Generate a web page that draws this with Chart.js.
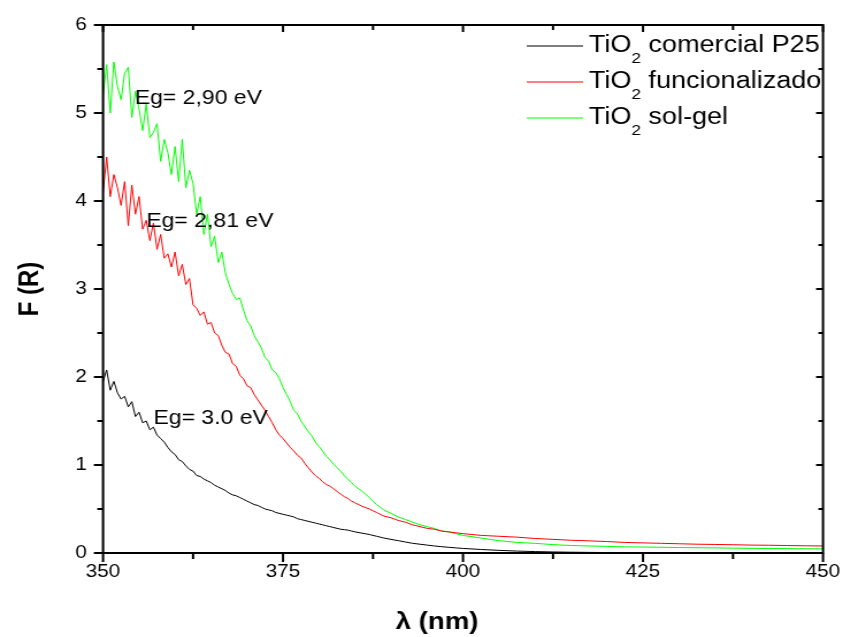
<!DOCTYPE html>
<html>
<head>
<meta charset="utf-8">
<script src="https://cdn.jsdelivr.net/npm/chart.js@4/dist/chart.umd.min.js"></script>
<style>
  html, body { margin: 0; padding: 0; background: #fff; }
</style>
</head>
<body>
<!-- drawn at 733 px wide and stretched to 843 px, like the source figure -->
<canvas id="chart" width="733" height="637" style="width:843px;height:637px;display:block"></canvas>
<script>
const lambda = [
  350, 350.5, 351, 351.5, 352, 352.5, 353, 353.5, 354, 354.5,
  355, 355.5, 356, 356.5, 357, 357.5, 358, 358.5, 359, 359.5,
  360, 360.5, 361, 361.5, 362, 362.5, 363, 363.5, 364, 364.5,
  365, 365.5, 366, 366.5, 367, 367.5, 368, 368.5, 369, 369.5,
  370, 370.5, 371, 371.5, 372, 372.5, 373, 373.5, 374, 374.5,
  375, 375.5, 376, 376.5, 377, 377.5, 378, 378.5, 379, 379.5,
  380, 380.5, 381, 381.5, 382, 382.5, 383, 383.5, 384, 384.5,
  385,
  386, 387, 388, 389, 390, 391, 392, 393, 394, 395, 396, 397, 398, 399, 400,
  402.5, 405, 407.5, 410, 412.5, 415, 417.5, 420, 422.5, 425,
  427.5, 430, 432.5, 435, 437.5, 440, 442.5, 445, 447.5, 450,
];

const p25 = [
  1.95, 2.08, 1.85, 1.95, 1.82, 1.75, 1.78, 1.66, 1.72, 1.55,
  1.60, 1.48, 1.50, 1.40, 1.43, 1.34, 1.30, 1.26, 1.20, 1.15,
  1.12, 1.06, 1.04, 0.99, 0.95, 0.93, 0.88, 0.87, 0.84, 0.82,
  0.80, 0.77, 0.75, 0.73, 0.71, 0.68, 0.66, 0.65, 0.63, 0.61,
  0.59, 0.57, 0.55, 0.54, 0.52, 0.50, 0.49, 0.48, 0.46, 0.45,
  0.44, 0.43, 0.42, 0.41, 0.39, 0.38, 0.37, 0.36, 0.35, 0.34,
  0.33, 0.32, 0.31, 0.30, 0.29, 0.28, 0.27, 0.265, 0.26, 0.25,
  0.24,
  0.225, 0.21, 0.19, 0.17, 0.155, 0.14, 0.125, 0.11, 0.10, 0.09, 0.08, 0.072, 0.065, 0.058, 0.052,
  0.04, 0.03, 0.022, 0.016, 0.012, 0.009, 0.007, 0.005, 0.004, 0.003,
  0.003, 0.002, 0.002, 0.002, 0.001, 0.001, 0.001, 0.001, 0.001, 0.001,
];

const funcionalizado = [
  4.10, 4.50, 4.05, 4.30, 4.15, 3.95, 4.22, 3.72, 4.18, 3.85,
  4.05, 3.68, 3.78, 3.55, 3.75, 3.45, 3.62, 3.35, 3.40, 3.25,
  3.42, 3.15, 3.28, 3.05, 3.12, 2.82, 2.78, 2.70, 2.74, 2.60,
  2.62, 2.50, 2.47, 2.36, 2.28, 2.26, 2.15, 2.12, 2.02, 1.98,
  1.90, 1.88, 1.80, 1.74, 1.68, 1.62, 1.55, 1.48, 1.40, 1.34,
  1.30, 1.25, 1.20, 1.16, 1.11, 1.08, 1.02, 0.97, 0.92, 0.88,
  0.85, 0.81, 0.78, 0.76, 0.73, 0.70, 0.67, 0.64, 0.62, 0.59,
  0.57,
  0.53, 0.50, 0.46, 0.42, 0.40, 0.37, 0.35, 0.32, 0.30, 0.28, 0.27, 0.25, 0.24, 0.23, 0.22,
  0.20, 0.19, 0.18, 0.165, 0.155, 0.145, 0.138, 0.13, 0.12, 0.115,
  0.11, 0.105, 0.10, 0.097, 0.094, 0.09, 0.088, 0.085, 0.082, 0.08,
];

const solGel = [
  5.20, 5.55, 5.00, 5.58, 5.30, 5.15, 5.45, 5.52, 4.95, 5.25,
  5.05, 4.80, 5.10, 4.72, 4.78, 4.88, 4.45, 4.70, 4.55, 4.30,
  4.62, 4.22, 4.70, 4.15, 4.35, 4.20, 3.85, 4.05, 3.62, 3.85,
  3.48, 3.60, 3.30, 3.42, 3.18, 3.05, 2.95, 2.88, 2.90, 2.76,
  2.64, 2.58, 2.47, 2.40, 2.33, 2.22, 2.18, 2.08, 2.05, 1.98,
  1.88, 1.80, 1.72, 1.62, 1.58, 1.50, 1.44, 1.38, 1.33, 1.26,
  1.21, 1.16, 1.10, 1.06, 1.01, 0.97, 0.93, 0.88, 0.84, 0.80,
  0.76,
  0.70, 0.63, 0.55, 0.49, 0.45, 0.41, 0.38, 0.35, 0.32, 0.30, 0.28, 0.25, 0.24, 0.22, 0.20,
  0.17, 0.14, 0.12, 0.11, 0.095, 0.085, 0.08, 0.075, 0.07, 0.068,
  0.065, 0.062, 0.06, 0.058, 0.055, 0.053, 0.051, 0.05, 0.048, 0.047,
];

const seriesNames = ["TiO2 comercial P25", "TiO2 funcionalizado", "TiO2 sol-gel"];
const seriesColors = ["#000000", "#ff0000", "#00ff00"];

const xTicks = [350, 375, 400, 425, 450];
const yTicks = [0, 1, 2, 3, 4, 5, 6];

const gapLabels = ["Eg= 2,90 eV", "Eg= 2,81 eV", "Eg= 3.0 eV"];
const gapAt = [[354.4, 5.1], [356.0, 3.7], [357.0, 1.47]];

const FONT = "'Liberation Sans', Arial, Helvetica, sans-serif";
Chart.defaults.font.family = FONT;
Chart.defaults.color = "#000";

function points(ys) {
  return lambda.map((x, i) => ({ x, y: ys[i] }));
}

function withMinors(ticks) {
  const out = [];
  ticks.forEach((t, i) => {
    out.push({ v: t, major: true });
    if (i < ticks.length - 1) out.push({ v: (t + ticks[i + 1]) / 2, major: false });
  });
  return out;
}

const frame = {
  id: "frame",
  afterDraw(c) {
    const { ctx, chartArea: a, scales } = c;
    ctx.save();
    ctx.strokeStyle = "#000";
    ctx.lineWidth = 2;
    ctx.strokeRect(a.left, a.top, a.right - a.left, a.bottom - a.top);
    ctx.beginPath();
    withMinors(xTicks).forEach((t) => {
      const px = scales.x.getPixelForValue(t.v);
      ctx.moveTo(px, a.bottom);
      ctx.lineTo(px, a.bottom + (t.major ? 9 : 6));
      ctx.moveTo(px, a.top);
      ctx.lineTo(px, a.top + (t.major ? 7 : 5));
    });
    withMinors(yTicks).forEach((t) => {
      const py = scales.y.getPixelForValue(t.v);
      ctx.moveTo(a.left, py);
      ctx.lineTo(a.left - (t.major ? 8 : 5), py);
      ctx.moveTo(a.right, py);
      ctx.lineTo(a.right - (t.major ? 6 : 4), py);
    });
    ctx.stroke();

    // x title sits a little left of the plot centre in the source
    ctx.fillStyle = "#000";
    ctx.font = `bold 24px ${FONT}`;
    ctx.textAlign = "center";
    ctx.textBaseline = "middle";
    ctx.fillText("λ (nm)", a.left + (a.right - a.left) * 0.464, 622);
    ctx.restore();
  },
};

const gapText = {
  id: "gapText",
  afterDraw(c) {
    const { ctx, scales } = c;
    ctx.save();
    ctx.fillStyle = "#000";
    ctx.font = `20px ${FONT}`;
    ctx.textBaseline = "alphabetic";
    gapLabels.forEach((t, i) => {
      ctx.fillText(t, scales.x.getPixelForValue(gapAt[i][0]), scales.y.getPixelForValue(gapAt[i][1]));
    });
    ctx.restore();
  },
};

const subLegend = {
  id: "subLegend",
  afterDraw(c) {
    const { ctx } = c;
    ctx.save();
    ctx.textBaseline = "alphabetic";
    c.data.datasets.forEach((ds, i) => {
      const base = 52 + i * 36;
      const ly = base - 6;
      ctx.strokeStyle = ds.borderColor;
      ctx.lineWidth = 1;
      ctx.beginPath();
      ctx.moveTo(458, ly);
      ctx.lineTo(507, ly);
      ctx.stroke();
      ctx.fillStyle = "#000";
      let x = 512;
      ctx.font = `23.5px ${FONT}`;
      ctx.fillText("TiO", x, base);
      x += ctx.measureText("TiO").width;
      ctx.font = `15px ${FONT}`;
      ctx.fillText("2", x, base + 11);
      x += ctx.measureText("2").width;
      ctx.font = `23.5px ${FONT}`;
      ctx.fillText(ds.label.slice(4), x, base);
    });
    ctx.restore();
  },
};

new Chart(document.getElementById("chart"), {
  type: "line",
  data: {
    datasets: [p25, funcionalizado, solGel].map((ys, i) => ({
      label: seriesNames[i],
      data: points(ys),
      borderColor: seriesColors[i],
      borderWidth: 1,
      pointRadius: 0,
      tension: 0,
      fill: false,
    })),
  },
  options: {
    responsive: false,
    animation: false,
    layout: { padding: { top: 25, right: 17.4, left: 0, bottom: 0 } },
    plugins: { legend: { display: false }, tooltip: { enabled: false } },
    scales: {
      x: {
        type: "linear",
        min: 350,
        max: 450,
        afterFit: (s) => { s.height = 84; s.paddingLeft = 0; s.paddingRight = 0; },
        afterBuildTicks: (s) => { s.ticks = xTicks.map((v) => ({ value: v })); },
        ticks: { font: { size: 18 }, color: "#000", padding: 8, maxRotation: 0, autoSkip: false },
        grid: { display: false, drawTicks: false },
        border: { display: false },
        title: { display: false },
      },
      y: {
        min: 0,
        max: 6,
        afterFit: (s) => { s.width = 89.6; },
        afterBuildTicks: (s) => { s.ticks = yTicks.map((v) => ({ value: v })); },
        ticks: { font: { size: 18 }, color: "#000", padding: 14 },
        grid: { display: false, drawTicks: false },
        border: { display: false },
        title: {
          display: true,
          text: "F (R)",
          color: "#000",
          font: { size: 24, weight: "bold" },
          padding: { top: 12, bottom: 0 },
        },
      },
    },
  },
  plugins: [frame, gapText, subLegend],
});
</script>
</body>
</html>
